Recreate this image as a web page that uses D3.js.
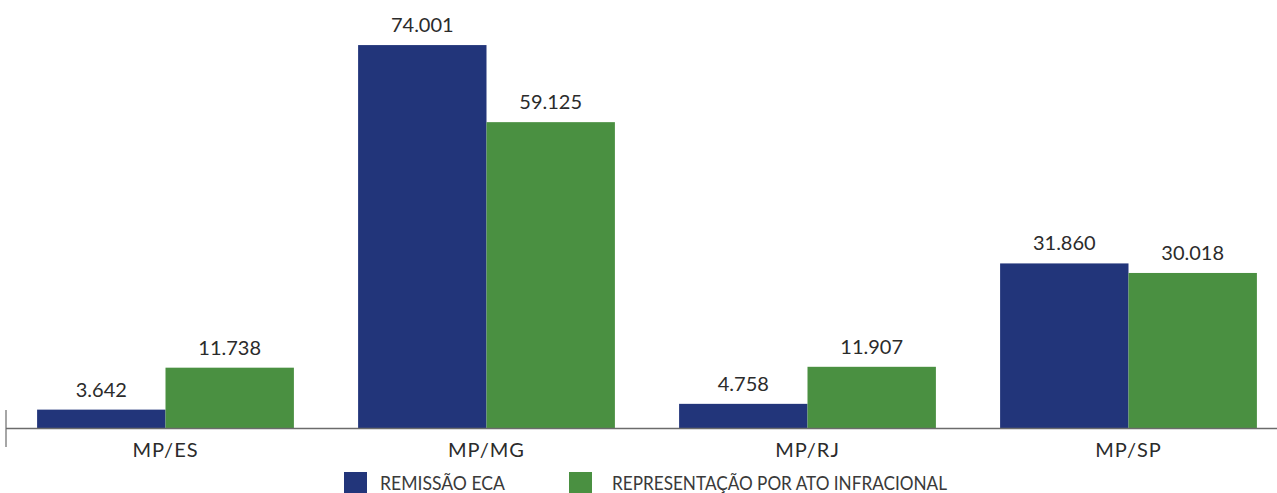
<!DOCTYPE html>
<html>
<head>
<meta charset="utf-8">
<style>
  body { margin: 0; background: #fff; }
  text { font-family: Lato, "Open Sans", sans-serif; fill: #2b2b2b; }
</style>
<script src="https://d3js.org/d3.v7.min.js"></script>
</head>
<body>
<script>
    var categories = ["MP/ES", "MP/MG", "MP/RJ", "MP/SP"];
    var series = ["REMISSÃO ECA", "REPRESENTAÇÃO POR ATO INFRACIONAL"];
    var remissao = [3642, 74001, 4758, 31860];
    var representacao = [11738, 59125, 11907, 30018];
    var colors = ["#22357a", "#4a9041"];

    var width = 1277, height = 493, baseY = 428.5;

    var svg = d3.select("body").append("svg")
        .attr("width", width)
        .attr("height", height);

    var x0 = d3.scaleBand().domain(categories)
        .range([5, 1289]).paddingInner(0.2).paddingOuter(0.1);
    var x1 = d3.scaleBand().domain([0, 1]).range([0, x0.bandwidth()]);
    var y = d3.scaleLinear().domain([0, 82700]).range([baseY, 0]);

    var fmt = function(v) { return d3.format(",")(v).replace(/,/g, "."); };

    var rows = categories.map(function(c, i) {
        return { cat: c, vals: [remissao[i], representacao[i]] };
    });

    var groups = svg.selectAll("g.grp").data(rows).enter().append("g")
        .attr("class", "grp")
        .attr("transform", function(d) { return "translate(" + x0(d.cat) + ",0)"; });

    groups.selectAll("rect").data(function(d) { return d.vals; }).enter().append("rect")
        .attr("x", function(d, i) { return x1(i); })
        .attr("y", function(d) { return y(d); })
        .attr("width", x1.bandwidth())
        .attr("height", function(d) { return baseY - y(d); })
        .attr("fill", function(d, i) { return colors[i]; });

    groups.selectAll("text.val").data(function(d) { return d.vals; }).enter().append("text")
        .attr("class", "val")
        .attr("x", function(d, i) { return x1(i) + x1.bandwidth() / 2; })
        .attr("y", function(d) { return y(d) - 13; })
        .attr("text-anchor", "middle")
        .style("font-size", "20px")
        .text(fmt);

    // baseline axis
    svg.append("line")
        .attr("x1", 6).attr("x2", width)
        .attr("y1", baseY).attr("y2", baseY)
        .attr("stroke", "#6b6b6b").attr("stroke-width", 1.5);
    svg.append("line")
        .attr("x1", 6).attr("x2", 6)
        .attr("y1", 410).attr("y2", 447)
        .attr("stroke", "#6b6b6b").attr("stroke-width", 1.2);

    svg.selectAll("text.cat").data(categories).enter().append("text")
        .attr("class", "cat")
        .attr("x", function(d) { return x0(d) + x0.bandwidth() / 2; })
        .attr("y", 457)
        .attr("text-anchor", "middle")
        .style("font-size", "20px")
        .style("letter-spacing", "1px")
        .text(function(d) { return d; });

    // legend
    var legX = [344, 569], legW = [125, 335], legPad = [36, 43];
    var leg = svg.selectAll("g.leg").data(series).enter().append("g")
        .attr("class", "leg")
        .attr("transform", function(d, i) { return "translate(" + legX[i] + ",472)"; });
    leg.append("rect").attr("width", 23).attr("height", 22)
        .attr("fill", function(d, i) { return colors[i]; });
    leg.append("text")
        .attr("x", function(d, i) { return legPad[i]; }).attr("y", 18)
        .style("font-size", "19px")
        .style("fill", "#3a3a3a")
        .attr("textLength", function(d, i) { return legW[i]; })
        .attr("lengthAdjust", "spacingAndGlyphs")
        .text(function(d) { return d; });
</script>
</body>
</html>
